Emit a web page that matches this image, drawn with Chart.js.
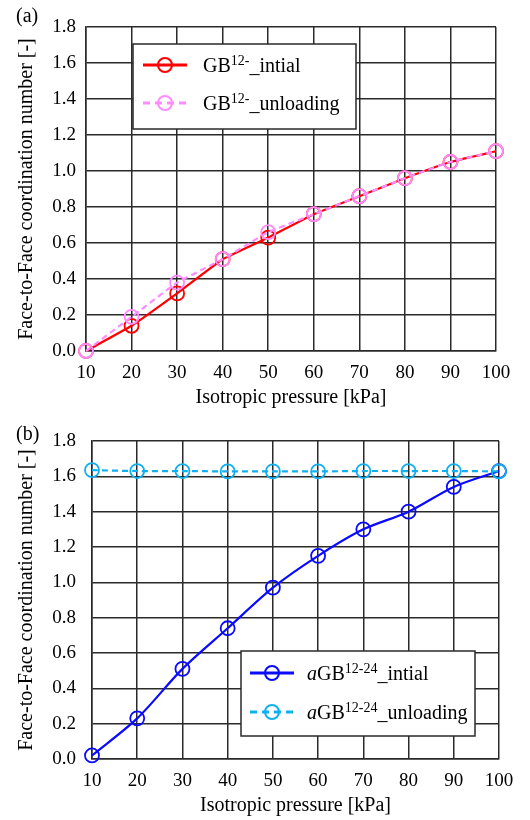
<!DOCTYPE html>
<html>
<head>
<meta charset="utf-8">
<script src="https://cdn.jsdelivr.net/npm/chart.js@4.4.1/dist/chart.umd.min.js"></script>
<style>
  body { margin: 0; background: #fff; }
  .panel { position: absolute; left: 0; width: 530px; height: 410px; }
</style>
</head>
<body>
<div class="panel" style="top:0"><canvas id="chartA" width="530" height="410"></canvas></div>
<div class="panel" style="top:410px"><canvas id="chartB" width="530" height="410"></canvas></div>
<script>
// datos
const pressure = [10, 20, 30, 40, 50, 60, 70, 80, 90, 100];
const gbInitial = [0.00, 0.14, 0.32, 0.51, 0.63, 0.76, 0.86, 0.96, 1.05, 1.11];
const gbUnloading = [0.00, 0.19, 0.38, 0.51, 0.66, 0.76, 0.86, 0.96, 1.05, 1.11];
const agbInitial = [0.02, 0.23, 0.51, 0.74, 0.97, 1.15, 1.30, 1.40, 1.54, 1.63];
const agbUnloading = [1.635, 1.63, 1.63, 1.628, 1.628, 1.628, 1.63, 1.63, 1.63, 1.628];

const xTitle = 'Isotropic pressure [kPa]';
const yTitle = 'Face-to-Face coordination number [-]';

const serif = '"Liberation Serif", "Times New Roman", serif';
const gridColor = '#2a2a2a';

const toPoints = (ys) => pressure.map((x, i) => ({x: x, y: ys[i]}));

// leyenda dibujada a mano (superindices)
const legendBox = {
  id: 'legendBox',
  afterDraw(chart, args, opts) {
    const ctx = chart.ctx;
    ctx.save();
    ctx.fillStyle = '#000';
    ctx.textAlign = 'left';
    ctx.textBaseline = 'middle';
    ctx.font = '20px ' + serif;
    ctx.fillText(opts.tag, opts.tagX, opts.tagY);

    const b = opts.box;
    ctx.fillStyle = '#fff';
    ctx.fillRect(b.x, b.y, b.w, b.h);
    ctx.strokeStyle = gridColor;
    ctx.lineWidth = 1.5;
    ctx.strokeRect(b.x, b.y, b.w, b.h);

    opts.items.forEach((it, i) => {
      const ds = chart.data.datasets[it.ds];
      const y = opts.rows[i];
      ctx.strokeStyle = ds.borderColor;
      ctx.lineWidth = 3;
      ctx.setLineDash(ds.borderDash ? [7, 5] : []);
      ctx.beginPath();
      ctx.moveTo(opts.sampleX1, y);
      ctx.lineTo(opts.sampleX2, y);
      ctx.stroke();
      ctx.setLineDash([]);
      ctx.lineWidth = 2;
      ctx.beginPath();
      ctx.arc((opts.sampleX1 + opts.sampleX2) / 2, y, ds.pointRadius, 0, Math.PI * 2);
      ctx.stroke();

      let x = opts.textX;
      const base = y + 7;
      ctx.fillStyle = '#000';
      ctx.textBaseline = 'alphabetic';
      it.parts.forEach(p => {
        if (p.sup) {
          ctx.font = '14px ' + serif;
          ctx.fillText(p.t, x, base - 7);
        } else {
          ctx.font = (p.italic ? 'italic ' : '') + '20px ' + serif;
          ctx.fillText(p.t, x, base);
        }
        x += ctx.measureText(p.t).width;
      });
    });
    ctx.restore();
  }
};

const makeScales = (yWidth, tickPad) => ({
  x: {
    type: 'linear', min: 10, max: 100,
    ticks: {stepSize: 10, color: '#000', padding: 11, font: {family: serif, size: 19}},
    grid: {color: gridColor, lineWidth: 1.5, drawTicks: false},
    border: {color: gridColor, width: 1.5},
    title: {display: true, text: xTitle, color: '#000', padding: 0, font: {family: serif, size: 20}},
    afterFit: (s) => { s.height = 59; }
  },
  y: {
    min: 0, max: 1.8,
    ticks: {stepSize: 0.2, color: '#000', padding: tickPad, font: {family: serif, size: 19},
      callback: (v) => v.toFixed(1)},
    grid: {color: gridColor, lineWidth: 1.5, drawTicks: false},
    border: {color: gridColor, width: 1.5},
    title: {display: true, text: yTitle, color: '#000', padding: 0, font: {family: serif, size: 20}},
    afterFit: (s) => { s.width = yWidth; }
  }
});

const baseOptions = {
  responsive: false,
  animation: false,
  devicePixelRatio: 1,
  plugins: {legend: {display: false}, tooltip: {enabled: false}}
};

new Chart('chartA', {
  type: 'line',
  data: {
    datasets: [{
      data: toPoints(gbInitial), borderColor: '#ff0000', borderWidth: 2.2,
      pointRadius: 7, pointBorderWidth: 1.8, pointBackgroundColor: 'transparent',
      pointBorderColor: '#ff0000', tension: 0.1, clip: false, order: 1
    }, {
      data: toPoints(gbUnloading), borderColor: '#ff8cff', borderWidth: 2.2, borderDash: [6, 4],
      pointRadius: 7, pointBorderWidth: 1.8, pointBackgroundColor: 'transparent',
      pointBorderColor: '#ff8cff', tension: 0.1, clip: false, order: 0
    }]
  },
  options: {
    ...baseOptions,
    layout: {padding: {left: 15, top: 27, right: 34, bottom: 0}},
    scales: makeScales(71, 10),
    plugins: {
      ...baseOptions.plugins,
      legendBox: {
        tag: '(a)', tagX: 16, tagY: 17,
        box: {x: 133, y: 44, w: 223, h: 85},
        rows: [65, 103], sampleX1: 143, sampleX2: 187, textX: 203,
        items: [
          {ds: 0, parts: [{t: 'GB'}, {t: '12-', sup: true}, {t: '_intial'}]},
          {ds: 1, parts: [{t: 'GB'}, {t: '12-', sup: true}, {t: '_unloading'}]}
        ]
      }
    }
  },
  plugins: [legendBox]
});

new Chart('chartB', {
  type: 'line',
  data: {
    datasets: [{
      data: toPoints(agbInitial), borderColor: '#0a0aff', borderWidth: 2.2,
      pointRadius: 7, pointBorderWidth: 1.8, pointBackgroundColor: 'transparent',
      pointBorderColor: '#0a0aff', tension: 0.3, clip: false, order: 1
    }, {
      data: toPoints(agbUnloading), borderColor: '#10b0f0', borderWidth: 2.2, borderDash: [6, 4],
      pointRadius: 7, pointBorderWidth: 1.8, pointBackgroundColor: 'transparent',
      pointBorderColor: '#10b0f0', tension: 0.3, clip: false, order: 0
    }]
  },
  options: {
    ...baseOptions,
    layout: {padding: {left: 15, top: 31, right: 31, bottom: 2}},
    scales: makeScales(77, 16),
    plugins: {
      ...baseOptions.plugins,
      legendBox: {
        tag: '(b)', tagX: 16, tagY: 25,
        box: {x: 241, y: 241, w: 234, h: 85},
        rows: [263, 302], sampleX1: 250, sampleX2: 294, textX: 307,
        items: [
          {ds: 0, parts: [{t: 'a', italic: true}, {t: 'GB'}, {t: '12-24', sup: true}, {t: '_intial'}]},
          {ds: 1, parts: [{t: 'a', italic: true}, {t: 'GB'}, {t: '12-24', sup: true}, {t: '_unloading'}]}
        ]
      }
    }
  },
  plugins: [legendBox]
});
</script>
</body>
</html>
